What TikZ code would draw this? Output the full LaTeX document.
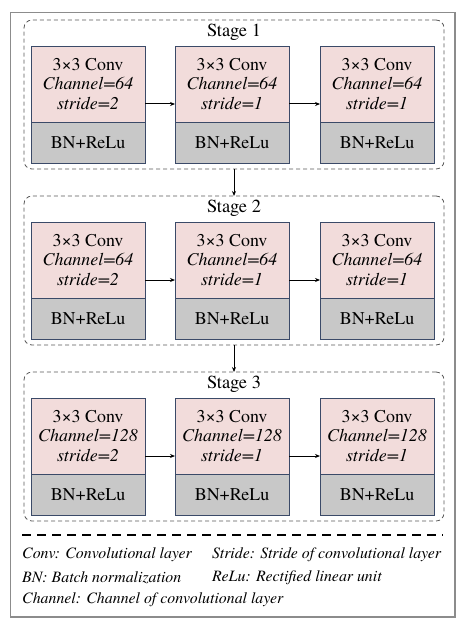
\documentclass[tikz,border=0pt]{standalone}
\usepackage{fontspec}
\setmainfont{TeX Gyre Termes}
\usetikzlibrary{positioning}
\usetikzlibrary{arrows.meta}

\definecolor{convpink}{HTML}{F2DCDB}
\definecolor{bngray}{HTML}{C8C8C8}
\definecolor{convline}{HTML}{3B4A68}
\definecolor{framegray}{HTML}{8C8C8C}

\tikzset{
  stagebox/.style={draw=black!65, dash pattern=on 4bp off 3bp, line width=0.8bp, rounded corners=8bp,
    minimum width=420bp, minimum height=149bp, outer sep=0pt},
  stagelabel/.style={inner sep=0pt, font=\fontsize{18.5}{20}\selectfont},
  convbox/.style={draw=convline, fill=convpink, line width=0.8bp, minimum width=114bp, minimum height=76bp,
    inner sep=0pt, outer sep=0pt, align=center, font=\fontsize{18}{20}\selectfont},
  bnbox/.style={draw=convline, fill=bngray, line width=0.8bp, minimum width=114bp, minimum height=41bp,
    inner sep=0pt, outer sep=0pt, font=\fontsize{18}{20}\selectfont},
  flow/.style={-{Stealth[length=5bp,width=4bp]}, line width=1bp},
  legend/.style={anchor=west, inner sep=0pt, font=\fontsize{15.9}{18}\selectfont\itshape}
}

\begin{document}
\begin{tikzpicture}[x=1bp, y=1bp]

    \useasboundingbox (0,0) rectangle (468,-628);
    \draw[framegray, line width=1.6bp] (10.5,-12.5) rectangle (455,-617);

    % stage 1
    \node(S1)[stagebox] at (234,-94.5){};
    \node(L1)[stagelabel, below=4bp of S1.north]{Stage 1};
    \node(C11)[convbox, below right=26bp and 7bp of S1.north west]{3×3 Conv\\\textit{Channel=64}\\\textit{stride=2}};
    \node(B11)[bnbox, below=0pt of C11]{BN+ReLu};
    \node(C12)[convbox, right=30bp of C11]{3×3 Conv\\\textit{Channel=64}\\\textit{stride=1}};
    \node(B12)[bnbox, below=0pt of C12]{BN+ReLu};
    \node(C13)[convbox, right=31bp of C12]{3×3 Conv\\\textit{Channel=64}\\\textit{stride=1}};
    \node(B13)[bnbox, below=0pt of C13]{BN+ReLu};

    \draw[flow] ([yshift=-20bp]C11.east) -- ([yshift=-20bp]C12.west);
    \draw[flow] ([yshift=-20bp]C12.east) -- ([yshift=-20bp]C13.west);

    % stage 2
    \node(S2)[stagebox, below=27bp of S1]{};
    \node(L2)[stagelabel, below=4bp of S2.north]{Stage 2};
    \node(C21)[convbox, below right=26bp and 7bp of S2.north west]{3×3 Conv\\\textit{Channel=64}\\\textit{stride=2}};
    \node(B21)[bnbox, below=0pt of C21]{BN+ReLu};
    \node(C22)[convbox, right=30bp of C21]{3×3 Conv\\\textit{Channel=64}\\\textit{stride=1}};
    \node(B22)[bnbox, below=0pt of C22]{BN+ReLu};
    \node(C23)[convbox, right=31bp of C22]{3×3 Conv\\\textit{Channel=64}\\\textit{stride=1}};
    \node(B23)[bnbox, below=0pt of C23]{BN+ReLu};

    \draw[flow] ([yshift=-20bp]C21.east) -- ([yshift=-20bp]C22.west);
    \draw[flow] ([yshift=-20bp]C22.east) -- ([yshift=-20bp]C23.west);

    % stage 3
    \node(S3)[stagebox, below=27bp of S2]{};
    \node(L3)[stagelabel, below=4bp of S3.north]{Stage 3};
    \node(C31)[convbox, below right=26bp and 7bp of S3.north west]{3×3 Conv\\\textit{Channel=128}\\\textit{stride=2}};
    \node(B31)[bnbox, below=0pt of C31]{BN+ReLu};
    \node(C32)[convbox, right=30bp of C31]{3×3 Conv\\\textit{Channel=128}\\\textit{stride=1}};
    \node(B32)[bnbox, below=0pt of C32]{BN+ReLu};
    \node(C33)[convbox, right=31bp of C32]{3×3 Conv\\\textit{Channel=128}\\\textit{stride=1}};
    \node(B33)[bnbox, below=0pt of C33]{BN+ReLu};

    \draw[flow] ([yshift=-20bp]C31.east) -- ([yshift=-20bp]C32.west);
    \draw[flow] ([yshift=-20bp]C32.east) -- ([yshift=-20bp]C33.west);

    \draw[flow] (S1) -- (S2);
    \draw[flow] (S2) -- (S3);

    % legend
    \coordinate(SepL) at (22,-535);
    \coordinate(SepR) at (443,-535);
    \draw[line width=2bp, dash pattern=on 9bp off 6bp] (SepL) -- (SepR);

    \node(G1)[legend] at (22,-555){Conv: Convolutional layer};
    \node(G2)[legend] at (212,-555){Stride: Stride of convolutional layer};
    \node(G3)[legend] at (22,-578){BN: Batch normalization};
    \node(G4)[legend] at (212,-578){ReLu: Rectified linear unit};
    \node(G5)[legend] at (22,-600){Channel: Channel of convolutional layer};

\end{tikzpicture}
\end{document}
